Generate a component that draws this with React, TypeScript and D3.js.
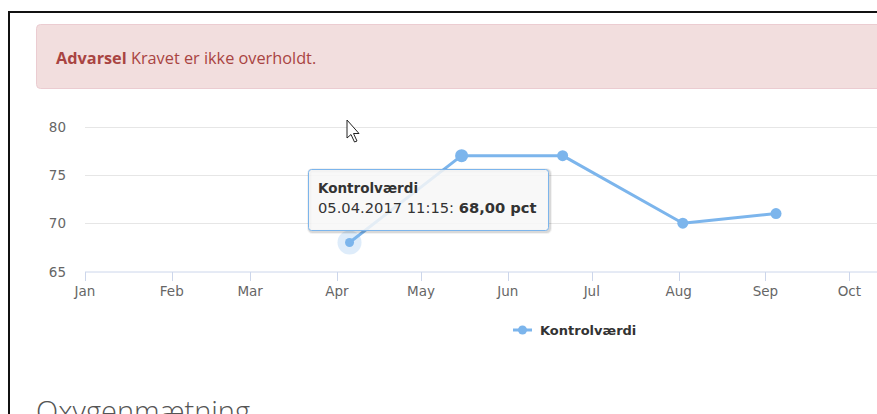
import React from "react";
import * as d3 from "d3";

const seriesName = "Kontrolværdi";
const pointDates = ["2017-04-05T11:15:00Z", "2017-05-15T12:00:00Z", "2017-06-20T14:00:00Z", "2017-08-02T12:00:00Z", "2017-09-04T19:00:00Z"];
const pointValues = [68, 77, 77, 70, 71];
const yTicks = [65, 70, 75, 80];
const monthLabels = ["Jan", "Feb", "Mar", "Apr", "May", "Jun", "Jul", "Aug", "Sep", "Oct", "Nov", "Dec"];
const alertTitle = "Advarsel";
const alertText = " Kravet er ikke overholdt.";
const tooltipDate = "05.04.2017 11:15: ";
const tooltipValue = "68,00 pct";
const nextTitle = "Oxygenmætning";

const W = 877;
const H = 414;
const BLUE = "#7cb5ec";

export default function App() {
  const x = d3
    .scaleUtc()
    .domain([new Date("2017-01-01T00:00:00Z"), new Date("2017-12-31T00:00:00Z")])
    .range([85, 85 + 364 * 2.8]);
  const y = d3.scaleLinear().domain([65, 80]).range([271.5, 126.7]);

  const data = pointDates.map((d, i) => ({ date: new Date(d), value: pointValues[i] }));
  const line = d3
    .line<{ date: Date; value: number }>()
    .x((d) => x(d.date))
    .y((d) => y(d.value));

  const months = d3.utcMonth.range(new Date("2017-01-01T00:00:00Z"), new Date("2018-01-01T00:00:00Z"));
  const chartFont = "'DejaVu Sans', sans-serif";

  const p0 = data[0];
  const markerR = [4.5, 6.5, 5.5, 5.5, 5.5];

  return (
    <svg width={W} height={H} style={{ position: "absolute", left: 0, top: 0, background: "#fff" }}>
      {/* page frame */}
      <line x1={8} y1={12} x2={W} y2={12} stroke="#111" strokeWidth={2} />
      <line x1={9} y1={11} x2={9} y2={H} stroke="#111" strokeWidth={2} />

      {/* alert */}
      <rect x={36.5} y={24.5} width={W + 20} height={64} rx={4} fill="#f2dede" stroke="#ebccd1" />
      <text x={56} y={64} fontFamily="'Open Sans', sans-serif" fontSize={16.3} fill="#a94442">
        <tspan fontWeight="bold">{alertTitle}</tspan>
        <tspan>{alertText}</tspan>
      </text>

      {/* grid */}
      {yTicks.slice(1).map((t) => (
        <line key={t} x1={85} x2={W} y1={Math.round(y(t)) + 0.5} y2={Math.round(y(t)) + 0.5} stroke="#e6e6e6" strokeWidth={1} />
      ))}
      {yTicks.map((t) => (
        <text key={"yl" + t} x={66} y={y(t) + 5} textAnchor="end" fontFamily={chartFont} fontSize={13.5} fill="#666">
          {t}
        </text>
      ))}

      {/* x axis */}
      <line x1={85} x2={W} y1={272} y2={272} stroke="#ccd6eb" strokeWidth={1} />
      {months.map((m, i) =>
        x(m) + 15 < W ? (
          <g key={i}>
            <line x1={Math.round(x(m)) + 0.5} x2={Math.round(x(m)) + 0.5} y1={272} y2={281} stroke="#ccd6eb" />
            <text x={x(m)} y={296} textAnchor="middle" fontFamily={chartFont} fontSize={13.5} fill="#666">
              {monthLabels[i]}
            </text>
          </g>
        ) : null
      )}

      {/* series */}
      <g>
        <circle cx={x(p0.date)} cy={y(p0.value)} r={12} fill={BLUE} fillOpacity={0.25} />
        <path d={line(data) || ""} fill="none" stroke={BLUE} strokeWidth={3} strokeLinejoin="round" strokeLinecap="round" />
        {data.map((d, i) => (
          <circle key={i} cx={x(d.date)} cy={y(d.value)} r={markerR[i]} fill={BLUE} />
        ))}
      </g>

      {/* tooltip */}
      <g>
        <rect x={309.5} y={170.5} width={240} height={61} rx={3} fill="none" stroke="#000" strokeOpacity={0.05} strokeWidth={5} />
        <rect x={309.5} y={170.5} width={240} height={61} rx={3} fill="none" stroke="#000" strokeOpacity={0.1} strokeWidth={3} />
        <rect x={308.5} y={169.5} width={240} height={61} rx={3} fill="rgba(247,247,247,0.85)" stroke={BLUE} strokeWidth={1} />
        <text x={318} y={193} fontFamily={chartFont} fontSize={13.5} fontWeight="bold" fill="#333">
          {seriesName}
        </text>
        <text x={318} y={213} fontFamily={chartFont} fontSize={14.7} fill="#333">
          <tspan>{tooltipDate}</tspan>
          <tspan fontWeight="bold">{tooltipValue}</tspan>
        </text>
      </g>

      {/* legend */}
      <line x1={513} x2={532} y1={330} y2={330} stroke={BLUE} strokeWidth={3} />
      <circle cx={522.5} cy={330} r={4.5} fill={BLUE} />
      <text x={540} y={335} fontFamily={chartFont} fontSize={13} fontWeight="bold" fill="#333">
        {seriesName}
      </text>

      {/* cursor */}
      <path
        d="M347,120 L347,138 L351,134.5 L354.5,142 L357,141 L353.5,133.5 L359,133.5 Z"
        fill="#fff"
        stroke="#222"
        strokeWidth={1}
        strokeLinejoin="round"
      />

      {/* next section title */}
      <text x={36} y={422} fontFamily="'Open Sans', sans-serif" fontWeight={300} fontSize={29} fill="#555">
        {nextTitle}
      </text>
    </svg>
  );
}
